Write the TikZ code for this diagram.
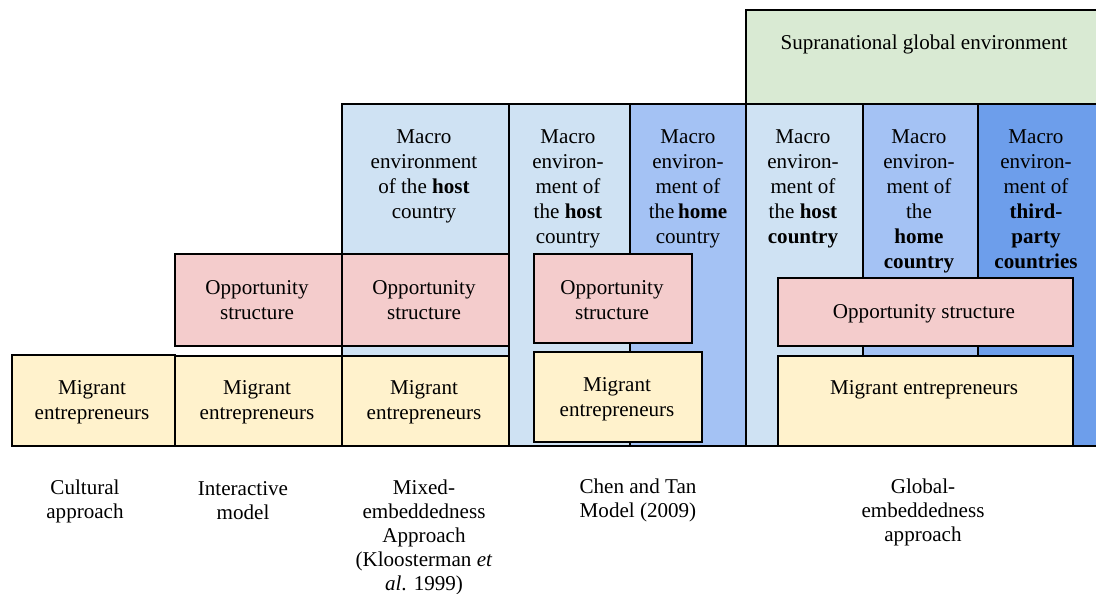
\documentclass[tikz,border=0pt]{standalone}
\usepackage{fontspec}
\setmainfont{Liberation Serif}
\usepackage{tikz}

\definecolor{hostblue}{HTML}{CFE2F3}
\definecolor{homeblue}{HTML}{A4C2F4}
\definecolor{thirdblue}{HTML}{6D9EEB}
\definecolor{globgreen}{HTML}{D9EAD3}
\definecolor{opppink}{HTML}{F4CCCC}
\definecolor{migyellow}{HTML}{FFF2CC}

\tikzset{box/.style={draw,line width=1pt,inner sep=0,anchor=north west},
txt/.style={align=center,inner sep=0,anchor=north,font=\fontsize{12}{14.3}\selectfont},
captxt/.style={txt,font=\fontsize{12}{13.6}\selectfont}}

\begin{document}
\begin{tikzpicture}[x=0.02cm,y=-0.02cm]
\useasboundingbox (0,0) rectangle (1096,594);
% macro environments
\node[box,fill=hostblue,minimum width=3.34cm,minimum height=6.84cm] (host3) at (341,103) {};
\node[box,fill=hostblue,minimum width=2.42cm,minimum height=6.84cm] (host4) at (508,103) {};
\node[box,fill=homeblue,minimum width=2.32cm,minimum height=6.84cm] (home4) at (629,103) {};
\node[box,fill=hostblue,minimum width=2.34cm,minimum height=6.84cm] (host5) at (745,103) {};
\node[box,fill=homeblue,minimum width=2.30cm,minimum height=6.84cm] (home5) at (862,103) {};
\node[box,fill=thirdblue,minimum width=2.40cm,minimum height=6.84cm] (third5) at (977,103) {};
\node[box,fill=globgreen,minimum width=7.04cm,minimum height=1.88cm] (glob5) at (745,9) {};
% opportunity structures
\node[box,fill=opppink,minimum width=3.34cm,minimum height=1.84cm] (opp2) at (174,253) {};
\node[box,fill=opppink,minimum width=3.34cm,minimum height=1.84cm] (opp3) at (341,253) {};
\node[box,fill=opppink,minimum width=3.16cm,minimum height=1.78cm] (opp4) at (533,253) {};
\node[box,fill=opppink,minimum width=5.90cm,minimum height=1.36cm] (opp5) at (777,277) {};
% migrant entrepreneurs
\node[box,fill=migyellow,minimum width=3.26cm,minimum height=1.82cm] (mig1) at (11,354) {};
\node[box,fill=migyellow,minimum width=3.34cm,minimum height=1.80cm] (mig2) at (174,355) {};
\node[box,fill=migyellow,minimum width=3.34cm,minimum height=1.80cm] (mig3) at (341,355) {};
\node[box,fill=migyellow,minimum width=3.36cm,minimum height=1.80cm] (mig4) at (533,351) {};
\node[box,fill=migyellow,minimum width=5.90cm,minimum height=1.80cm] (mig5) at (777,355) {};
% texts in the boxes
\node[txt] (host3t) at (424,129) {Macro\\environment\\of the \textbf{host}\\country};
\node[txt] (host4t) at (568,129) {Macro\\environ-\\ment of\\the \textbf{host}\\country};
\node[txt] (home4t) at (688,129) {Macro\\environ-\\ment of\\the\,\textbf{home}\\country};
\node[txt] (host5t) at (803,129) {Macro\\environ-\\ment of\\the \textbf{host}\\\textbf{country}};
\node[txt] (home5t) at (919,129) {Macro\\environ-\\ment of\\the\\\textbf{home}\\\textbf{country}};
\node[txt] (third5t) at (1036,129) {Macro\\environ-\\ment of\\\textbf{third-}\\\textbf{party}\\\textbf{countries}};
\node[txt] (glob5t) at (924,35) {Supranational global environment};
\node[txt] (opp2t) at (257,280) {Opportunity\\structure};
\node[txt] (opp3t) at (424,280) {Opportunity\\structure};
\node[txt] (opp4t) at (612,280) {Opportunity\\structure};
\node[txt] (opp5t) at (924,304) {Opportunity structure};
\node[txt] (mig1t) at (92,380) {Migrant\\entrepreneurs};
\node[txt] (mig2t) at (257,380) {Migrant\\entrepreneurs};
\node[txt] (mig3t) at (424,380) {Migrant\\entrepreneurs};
\node[txt] (mig4t) at (617,377) {Migrant\\entrepreneurs};
\node[txt] (mig5t) at (924,380) {Migrant entrepreneurs};
% approaches
\node[captxt] (cult) at (85,480) {Cultural\\approach};
\node[captxt] (inter) at (243,481) {Interactive\\model};
\node[captxt] (mixed) at (424,480) {Mixed-\\embeddedness\\Approach\\(Kloosterman \textit{et}\\\textit{al}. 1999)};
\node[captxt] (chen) at (638,479) {Chen and Tan\\Model (2009)};
\node[captxt] (global) at (923,479) {Global-\\embeddedness\\approach};
\end{tikzpicture}
\end{document}
